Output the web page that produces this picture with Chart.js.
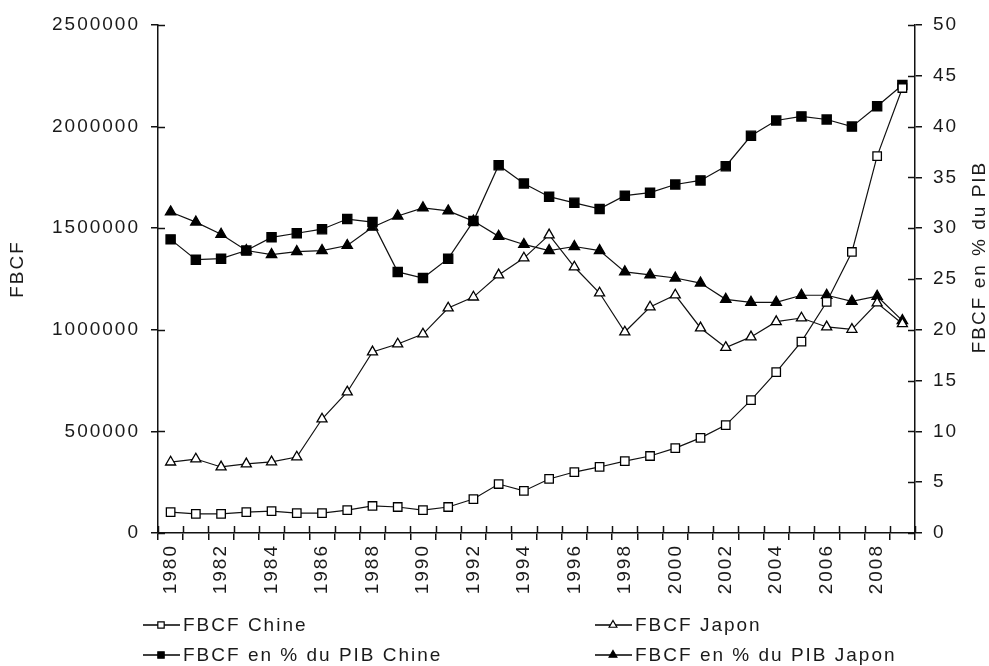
<!DOCTYPE html>
<html>
<head>
<meta charset="utf-8">
<script src="https://cdn.jsdelivr.net/npm/chart.js@4.4.0/dist/chart.umd.min.js"></script>
<style>
  body { margin: 0; background: #fff; }
  #wrap { width: 989px; height: 666px; }
</style>
</head>
<body>
<div id="wrap"><canvas id="myChart" width="989" height="666"></canvas></div>
<script>
// Années
const years = ['1980', '1981', '1982', '1983', '1984', '1985', '1986', '1987', '1988', '1989',
    '1990', '1991', '1992', '1993', '1994', '1995', '1996', '1997', '1998', '1999',
    '2000', '2001', '2002', '2003', '2004', '2005', '2006', '2007', '2008', '2009'];

// FBCF (axe de gauche)
const fbcfChine = [103000, 94000, 94000, 103000, 108000, 98000, 98000, 113000, 133000, 128000,
    113000, 128000, 167000, 241000, 207000, 266000, 300000, 325000, 354000, 379000,
    418000, 468000, 531000, 654000, 792000, 942000, 1137000, 1383000, 1855000, 2190000];
const fbcfJapon = [349000, 364000, 325000, 340000, 350000, 374000, 561000, 694000, 891000, 930000,
    979000, 1107000, 1161000, 1270000, 1353000, 1467000, 1309000, 1181000, 989000, 1112000,
    1171000, 1009000, 913000, 965000, 1040000, 1058000, 1014000, 1002000, 1132000, 1030000];

// FBCF en % du PIB (axe de droite)
const pibChine = [28.9, 26.9, 27.0, 27.8, 29.1, 29.5, 29.9, 30.9, 30.6, 25.7,
    25.1, 27.0, 30.7, 36.2, 34.4, 33.1, 32.5, 31.9, 33.2, 33.5,
    34.3, 34.7, 36.1, 39.1, 40.6, 41.0, 40.7, 40.0, 42.0, 44.1];
const pibJapon = [31.6, 30.6, 29.4, 27.8, 27.4, 27.7, 27.8, 28.3, 30.1, 31.2,
    32.0, 31.7, 30.7, 29.2, 28.4, 27.8, 28.2, 27.8, 25.7, 25.4,
    25.1, 24.6, 23.0, 22.7, 22.7, 23.4, 23.4, 22.8, 23.3, 20.9];

// Graduations
const leftTicks = [0, 500000, 1000000, 1500000, 2000000, 2500000];
const rightTicks = [0, 5, 10, 15, 20, 25, 30, 35, 40, 45, 50];

const labelsSeries = ['FBCF Chine', 'FBCF Japon', 'FBCF en % du PIB Chine', 'FBCF en % du PIB Japon'];
const leftTitle = 'FBCF';
const rightTitle = 'FBCF en % du PIB';

const FONT = '"Liberation Sans", Arial, sans-serif';
const FSIZE = 19;
const SPACING = '2px';
const TEXT = '#1a1a1a';

// espacement des lettres comme dans l'image d'origine
const spacingPlugin = {
    id: 'spacing',
    beforeUpdate(chart) { chart.ctx.letterSpacing = SPACING; },
    beforeDraw(chart) { chart.ctx.letterSpacing = SPACING; }
};

function marker(ctx, style, filled, x, y, r) {
    ctx.beginPath();
    if (style === 'rect') {
        const s = Math.SQRT1_2 * r;
        ctx.rect(x - s, y - s, 2 * s, 2 * s);
    } else {
        ctx.moveTo(x, y - r);
        ctx.lineTo(x + Math.sin(2 * Math.PI / 3) * r, y + r / 2);
        ctx.lineTo(x - Math.sin(2 * Math.PI / 3) * r, y + r / 2);
        ctx.closePath();
    }
    ctx.fillStyle = filled ? '#000' : '#fff';
    ctx.fill();
    ctx.stroke();
}

// légende, titres d'axes et graduations qui traversent l'axe
const legendPos = [[143, 625], [595, 625], [143, 655], [595, 655]];
const extrasPlugin = {
    id: 'extras',
    afterDraw(chart) {
        const ctx = chart.ctx;
        ctx.save();
        ctx.letterSpacing = SPACING;
        ctx.font = FSIZE + 'px ' + FONT;
        ctx.fillStyle = TEXT;
        ctx.textBaseline = 'middle';

        chart.data.datasets.forEach((ds, i) => {
            const [x, y] = legendPos[i];
            ctx.strokeStyle = '#000';
            ctx.lineWidth = 1.5;
            ctx.beginPath();
            ctx.moveTo(x, y);
            ctx.lineTo(x + 37, y);
            ctx.stroke();
            ctx.lineWidth = 1.2;
            marker(ctx, ds.pointStyle, ds.pointBackgroundColor === '#000', x + 18, y, 4.5);
            ctx.fillStyle = TEXT;
            ctx.textAlign = 'left';
            ctx.fillText(ds.label, x + 40, y + 1);
        });

        // titres d'axes (lecture de bas en haut)
        ctx.textAlign = 'center';
        ctx.save();
        ctx.translate(18, 269);
        ctx.rotate(-Math.PI / 2);
        ctx.fillText(leftTitle, 0, 0);
        ctx.restore();
        ctx.save();
        ctx.translate(980, 257);
        ctx.rotate(-Math.PI / 2);
        ctx.fillText(rightTitle, 0, 0);
        ctx.restore();

        // parties intérieures des graduations
        ctx.strokeStyle = '#111';
        ctx.lineWidth = 1.5;
        const yl = chart.scales.y;
        yl.ticks.forEach((t, i) => {
            const py = Math.round(yl.getPixelForTick(i)) + 0.5;
            ctx.beginPath();
            ctx.moveTo(yl.right, py);
            ctx.lineTo(yl.right + 7, py);
            ctx.stroke();
        });
        const yr = chart.scales.y2;
        yr.ticks.forEach((t, i) => {
            const py = Math.round(yr.getPixelForTick(i)) + 0.5;
            ctx.beginPath();
            ctx.moveTo(yr.left - 7, py);
            ctx.lineTo(yr.left, py);
            ctx.stroke();
        });
        const xs = chart.scales.x;
        const step = xs.getPixelForValue(1) - xs.getPixelForValue(0);
        for (let i = 0; i <= years.length; i++) {
            const px = Math.round(xs.getPixelForValue(i) - step / 2) + 0.5;
            ctx.beginPath();
            ctx.moveTo(px, xs.top - 7);
            ctx.lineTo(px, xs.top);
            ctx.stroke();
        }
        ctx.restore();
    }
};

function lineSet(label, data, axis, style, filled, r) {
    return {
        label: label,
        data: data,
        yAxisID: axis,
        borderColor: '#111',
        borderWidth: 1.2,
        pointStyle: style,
        pointRadius: r,
        pointHoverRadius: r,
        pointBorderWidth: 1.3,
        pointBorderColor: '#000',
        pointBackgroundColor: filled ? '#000' : '#fff',
        tension: 0
    };
}

const axisGrid = { display: true, drawOnChartArea: false, drawTicks: true, color: '#111', lineWidth: 1.5 };
const tickFont = { family: FONT, size: FSIZE };

const ctx = document.getElementById('myChart').getContext('2d');
const myChart = new Chart(ctx, {
    type: 'line',
    data: {
        labels: years,
        datasets: [
            lineSet(labelsSeries[0], fbcfChine, 'y', 'rect', false, 6),
            lineSet(labelsSeries[1], fbcfJapon, 'y', 'triangle', false, 5.8),
            lineSet(labelsSeries[2], pibChine, 'y2', 'rect', true, 6.5),
            lineSet(labelsSeries[3], pibJapon, 'y2', 'triangle', true, 6)
        ]
    },
    options: {
        responsive: false,
        animation: false,
        layout: { padding: { top: 25, left: 0, right: 0, bottom: 0 } },
        plugins: {
            legend: { display: false },
            tooltip: { enabled: false }
        },
        scales: {
            x: {
                offset: true,
                grid: Object.assign({}, axisGrid, { offset: true, tickLength: 7 }),
                border: { display: true, color: '#111', width: 1.5 },
                ticks: {
                    autoSkip: false,
                    minRotation: 90,
                    maxRotation: 90,
                    padding: 4,
                    color: TEXT,
                    font: tickFont,
                    callback: function (v, i) { return i % 2 === 0 ? years[i] : ''; }
                },
                afterFit: s => { s.height = 133; }
            },
            y: {
                position: 'left',
                min: 0,
                max: 2500000,
                afterBuildTicks: s => { s.ticks = leftTicks.map(v => ({ value: v })); },
                grid: Object.assign({}, axisGrid, { tickLength: 7 }),
                border: { display: true, color: '#111', width: 1.5 },
                ticks: {
                    padding: 11,
                    color: TEXT,
                    font: tickFont,
                    callback: v => String(v)
                },
                afterFit: s => { s.width = 158; }
            },
            y2: {
                position: 'right',
                min: 0,
                max: 50,
                afterBuildTicks: s => { s.ticks = rightTicks.map(v => ({ value: v })); },
                grid: Object.assign({}, axisGrid, { tickLength: 7 }),
                border: { display: true, color: '#111', width: 1.5 },
                ticks: {
                    padding: 11,
                    color: TEXT,
                    font: tickFont,
                    callback: v => String(v)
                },
                afterFit: s => { s.width = 74; }
            }
        }
    },
    plugins: [spacingPlugin, extrasPlugin]
});
</script>
</body>
</html>
